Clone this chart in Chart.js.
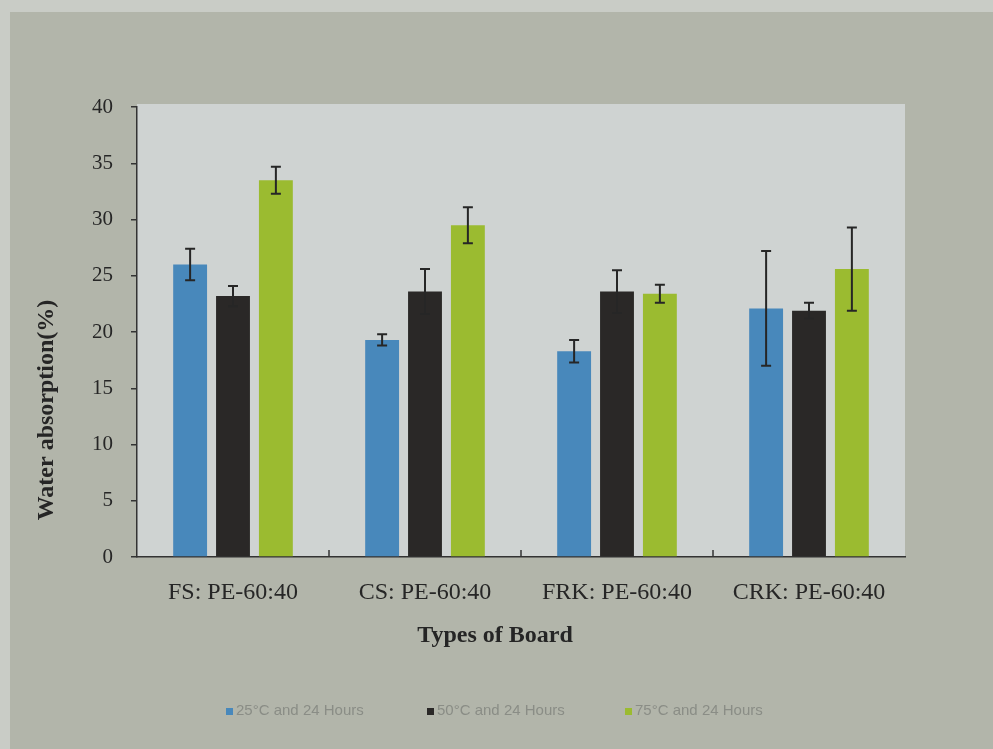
<!DOCTYPE html>
<html>
<head>
<meta charset="utf-8">
<script src="https://cdn.jsdelivr.net/npm/chart.js@4.4.1/dist/chart.umd.min.js"></script>
<style>
  html, body { margin: 0; padding: 0; background: #c9ccc6; }
  #wrap { width: 993px; height: 749px; }
</style>
</head>
<body>
<div id="wrap"><canvas id="waterChart" width="993" height="749"></canvas></div>
<script>
// categories and series
var boards = ['FS: PE-60:40', 'CS: PE-60:40', 'FRK: PE-60:40', 'CRK: PE-60:40'];
var seriesNames = ['25\u00B0C and 24 Hours', '50\u00B0C and 24 Hours', '75\u00B0C and 24 Hours'];
var at25 = [26.0, 19.3, 18.3, 22.1];
var at50 = [23.2, 23.6, 23.6, 21.9];
var at75 = [33.5, 29.5, 23.4, 25.6];
// error bar half-lengths
var err25 = [1.4, 0.5, 1.0, 5.1];
var err50 = [0.9, 2.0, 1.9, 0.7];
var err75 = [1.2, 1.6, 0.8, 3.7];
var yTicks = [0, 5, 10, 15, 20, 25, 30, 35, 40];

var colors = ['#4888bb', '#2a2827', '#9bbb30'];
var serif = '"Liberation Serif", "DejaVu Serif", serif';

// backgrounds, error bars, category separators, titles and legend
var decor = {
    id: 'decor',
    beforeDraw: function (chart) {
        var c = chart.ctx, a = chart.chartArea;
        c.save();
        c.fillStyle = '#c9ccc6';
        c.fillRect(0, 0, chart.width, chart.height);
        c.fillStyle = '#b2b5aa';
        c.fillRect(10, 12, chart.width - 10, chart.height - 12);
        c.fillStyle = '#cfd3d2';
        c.fillRect(a.left, a.top - 3, a.right - a.left, a.bottom - a.top + 3);
        c.restore();
    },
    afterDatasetsDraw: function (chart) {
        var c = chart.ctx, y = chart.scales.y, x = chart.scales.x, a = chart.chartArea;
        var errs = [err25, err50, err75];
        c.save();
        c.strokeStyle = '#262626';
        c.lineWidth = 2;
        chart.data.datasets.forEach(function (ds, di) {
            chart.getDatasetMeta(di).data.forEach(function (bar, i) {
                var v = ds.data[i], e = errs[di][i];
                var top = y.getPixelForValue(v + e), bot = y.getPixelForValue(v - e);
                c.beginPath();
                c.moveTo(bar.x, top); c.lineTo(bar.x, bot);
                c.moveTo(bar.x - 5, top); c.lineTo(bar.x + 5, top);
                c.moveTo(bar.x - 5, bot); c.lineTo(bar.x + 5, bot);
                c.stroke();
            });
        });
        // tick marks between categories, pointing up
        c.lineWidth = 1.5;
        c.strokeStyle = '#333';
        for (var i = 1; i < boards.length; i++) {
            var px = (x.getPixelForValue(i - 1) + x.getPixelForValue(i)) / 2;
            c.beginPath();
            c.moveTo(px, a.bottom); c.lineTo(px, a.bottom - 7);
            c.stroke();
        }
        c.restore();
    },
    afterDraw: function (chart) {
        var c = chart.ctx;
        c.save();
        c.fillStyle = '#252525';
        c.textAlign = 'center';
        c.textBaseline = 'middle';
        c.font = 'bold 24px ' + serif;
        c.fillText('Types of Board', 495, 636);
        c.translate(47, 410);
        c.rotate(-Math.PI / 2);
        c.fillText('Water absorption(%)', 0, 0);
        c.restore();

        // legend
        c.save();
        c.font = '15px "Liberation Sans", Arial, sans-serif';
        c.textBaseline = 'middle';
        var legendX = [226, 427, 625];
        chart.data.datasets.forEach(function (ds, di) {
            c.fillStyle = ds.backgroundColor;
            c.fillRect(legendX[di], 708, 7, 7);
            c.fillStyle = '#8a8d86';
            c.fillText(ds.label, legendX[di] + 10, 711);
        });
        c.restore();
    }
};

var ctx = document.getElementById('waterChart').getContext('2d');
var waterChart = new Chart(ctx, {
    type: 'bar',
    data: {
        labels: boards,
        datasets: [
            { label: seriesNames[0], data: at25, backgroundColor: colors[0] },
            { label: seriesNames[1], data: at50, backgroundColor: colors[1] },
            { label: seriesNames[2], data: at75, backgroundColor: colors[2] }
        ]
    },
    options: {
        responsive: false,
        animation: false,
        layout: { padding: { top: 107, right: 88, bottom: 99, left: 0 } },
        datasets: { bar: { categoryPercentage: 0.67, barPercentage: 0.79 } },
        plugins: {
            legend: { display: false },
            tooltip: { enabled: false }
        },
        scales: {
            x: {
                grid: { display: false },
                border: { color: '#333', width: 1.5 },
                ticks: {
                    color: '#262626',
                    padding: 13,
                    font: { family: serif, size: 24 }
                },
                afterFit: function (s) { s.height = 93; }
            },
            y: {
                min: 0,
                max: 40,
                afterBuildTicks: function (s) {
                    s.ticks = yTicks.map(function (v) { return { value: v }; });
                },
                grid: { drawOnChartArea: false, tickLength: 6, color: '#333', lineWidth: 1.5 },
                border: { color: '#333', width: 1.5 },
                ticks: {
                    color: '#262626',
                    padding: 18,
                    font: { family: serif, size: 21 }
                },
                afterFit: function (s) { s.width = 137; }
            }
        }
    },
    plugins: [decor]
});
</script>
</body>
</html>
